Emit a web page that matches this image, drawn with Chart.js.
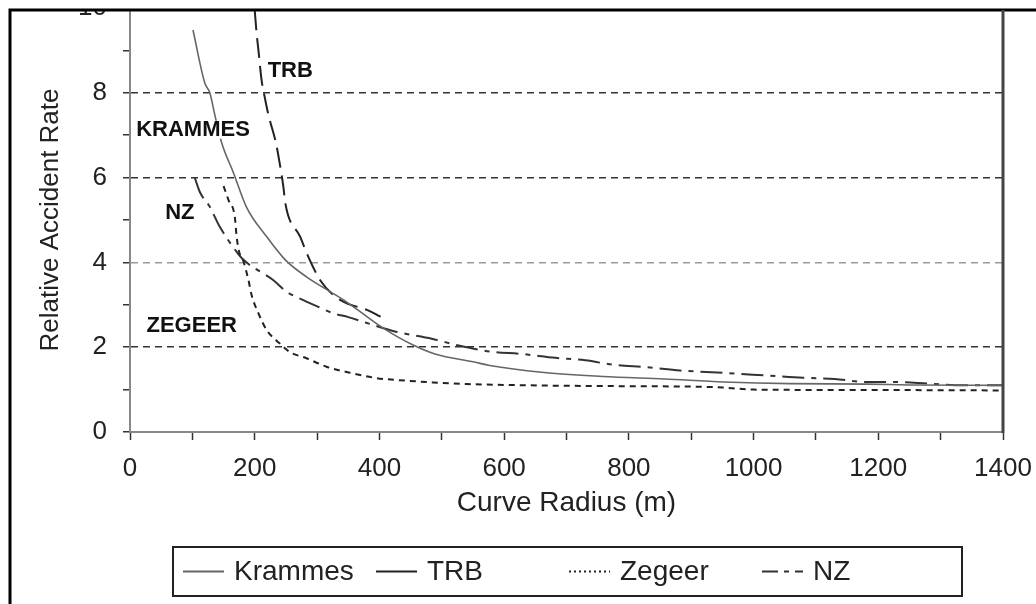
<!DOCTYPE html>
<html>
<head>
<meta charset="utf-8">
<script src="https://cdn.jsdelivr.net/npm/chart.js@4.4.1/dist/chart.umd.min.js"></script>
<style>
  html, body { margin: 0; padding: 0; background: #fff; }
  canvas { display: block; }
</style>
</head>
<body>
<canvas id="chart" width="1036" height="604"></canvas>
<script>
// values (radius in m, relative accident rate)
const krammesRadius = [101, 120, 128, 136, 147, 166, 187, 219, 249, 283, 321, 347, 380, 406, 454, 489, 552, 577, 660, 758, 857, 952, 1057, 1181, 1251, 1400];
const krammesRate = [9.48, 8.23, 8.0, 7.48, 6.82, 6.11, 5.3, 4.61, 4.06, 3.66, 3.31, 3.07, 2.72, 2.45, 2.05, 1.84, 1.65, 1.57, 1.41, 1.31, 1.25, 1.18, 1.14, 1.13, 1.11, 1.1];

const trbRadius = [200, 203, 206, 211, 216, 222, 234, 240, 246, 249, 273, 286, 305, 326, 347, 380, 402];
const trbRate = [9.95, 9.41, 9.0, 8.3, 7.9, 7.48, 6.82, 6.34, 5.78, 5.4, 4.6, 4.13, 3.58, 3.23, 3.04, 2.88, 2.72];

const zegeerRadius = [150, 158, 168, 171, 175, 182, 190, 195, 206, 219, 240, 256, 283, 315, 358, 396, 444, 486, 540, 600, 700, 800, 900, 950, 1000, 1200, 1400];
const zegeerRate = [5.8, 5.47, 5.08, 4.61, 4.25, 4.02, 3.58, 3.23, 2.8, 2.41, 2.09, 1.89, 1.74, 1.54, 1.38, 1.27, 1.21, 1.17, 1.13, 1.11, 1.09, 1.08, 1.07, 1.05, 1.0, 0.99, 0.98];

const nzRadius = [104, 112, 128, 144, 171, 182, 230, 251, 278, 302, 326, 350, 380, 428, 484, 527, 577, 628, 682, 730, 778, 828, 882, 933, 978, 1025, 1079, 1130, 1181, 1225, 1282, 1336, 1400];
const nzRate = [5.99, 5.66, 5.31, 4.84, 4.25, 4.06, 3.58, 3.31, 3.11, 2.95, 2.8, 2.71, 2.57, 2.36, 2.2, 2.04, 1.9, 1.84, 1.75, 1.69, 1.58, 1.53, 1.45, 1.41, 1.37, 1.33, 1.28, 1.25, 1.18, 1.18, 1.14, 1.1, 1.1];

// curve names written inside the plot, placed in data units
const noteText = ["TRB", "KRAMMES", "NZ", "ZEGEER"];
const noteRadius = [257, 101, 80, 99];
const noteRate = [8.51, 7.13, 5.17, 2.5];

const FONT = "'Liberation Sans', Arial, sans-serif";
const legendDash = [[], [], [2, 3], [16, 6, 5, 6]];

function series(label, xs, ys, color, dash, width) {
  return {
    label: label,
    data: xs.map((x, i) => ({ x: x, y: ys[i] })),
    borderColor: color,
    borderDash: dash,
    borderWidth: width,
    pointRadius: 0,
    fill: false,
    cubicInterpolationMode: "monotone"
  };
}

const decorations = {
  id: "decorations",
  beforeDraw(chart) {
    const ctx = chart.ctx;
    ctx.save();
    ctx.fillStyle = "#fff";
    ctx.fillRect(0, 0, chart.width, chart.height);
    ctx.restore();
  },
  afterDraw(chart) {
    const ctx = chart.ctx;
    const area = chart.chartArea;
    const xs = chart.scales.x;
    const ys = chart.scales.y;
    ctx.save();

    // curve labels with white backing
    ctx.font = "bold 22px " + FONT;
    ctx.textAlign = "center";
    ctx.textBaseline = "middle";
    noteText.forEach((t, i) => {
      const px = xs.getPixelForValue(noteRadius[i]);
      const py = ys.getPixelForValue(noteRate[i]);
      const w = ctx.measureText(t).width;
      ctx.fillStyle = "#fff";
      ctx.fillRect(px - w / 2 - 1, py - 9, w + 2, 18);
      ctx.fillStyle = "#111";
      ctx.fillText(t, px, py);
    });

    // scan is cut off above the frame
    ctx.fillStyle = "#fff";
    ctx.fillRect(0, 0, chart.width, 9);

    // outer frame
    ctx.strokeStyle = "#000";
    ctx.lineWidth = 3;
    ctx.beginPath();
    ctx.moveTo(10, chart.height);
    ctx.lineTo(10, 10);
    ctx.lineTo(chart.width, 10);
    ctx.stroke();

    // right edge of plot
    ctx.strokeStyle = "#444";
    ctx.lineWidth = 3;
    ctx.beginPath();
    ctx.moveTo(area.right, 10);
    ctx.lineTo(area.right, area.bottom + 1);
    ctx.stroke();

    // legend box
    const lx = 173, ly = 547, lw = 789, lh = 49;
    ctx.strokeStyle = "#222";
    ctx.lineWidth = 2;
    ctx.strokeRect(lx, ly, lw, lh);
    const cy = ly + lh / 2;
    ctx.font = "28px " + FONT;
    ctx.textAlign = "left";
    chart.data.datasets.forEach((ds, i) => {
      const sx = lx + 10 + i * 193;
      ctx.setLineDash(legendDash[i]);
      ctx.strokeStyle = ds.borderColor;
      ctx.lineWidth = 2;
      ctx.beginPath();
      ctx.moveTo(sx, cy);
      ctx.lineTo(sx + 41, cy);
      ctx.stroke();
      ctx.setLineDash([]);
      ctx.fillStyle = "#222";
      ctx.fillText(ds.label, sx + 51, cy + 1);
    });
    ctx.restore();
  }
};

new Chart(document.getElementById("chart"), {
  type: "line",
  data: {
    datasets: [
      series("Krammes", krammesRadius, krammesRate, "#666", [], 1.6),
      series("TRB", trbRadius, trbRate, "#222", [20, 8], 2),
      series("Zegeer", zegeerRadius, zegeerRate, "#222", [6, 5], 2),
      series("NZ", nzRadius, nzRate, "#333", [22, 7, 5, 7], 2)
    ]
  },
  options: {
    responsive: false,
    animation: false,
    devicePixelRatio: 1,
    layout: { padding: { left: 10, right: 33, top: 8, bottom: 0 } },
    plugins: { legend: { display: false }, tooltip: { enabled: false } },
    scales: {
      x: {
        type: "linear",
        min: 0,
        max: 1400,
        afterFit: s => {
          s.height = 172;
          s.paddingLeft = 0;
          s.paddingRight = 0;
        },
        ticks: {
          stepSize: 100,
          autoSkip: false,
          maxRotation: 0,
          padding: 13,
          color: "#222",
          font: { family: FONT, size: 26 },
          callback: v => (v % 200 === 0 ? String(v) : "")
        },
        grid: { drawOnChartArea: false, drawTicks: true, tickLength: 8, tickColor: "#333", tickWidth: 1.5 },
        border: { color: "#888", width: 2 },
        title: {
          display: true,
          text: "Curve Radius (m)",
          color: "#222",
          font: { family: FONT, size: 28 },
          padding: { top: 0, bottom: 84 }
        }
      },
      y: {
        min: 0,
        max: 10,
        afterFit: s => {
          s.width = 120;
          s.paddingTop = 0;
          s.paddingBottom = 0;
        },
        ticks: {
          stepSize: 1,
          autoSkip: false,
          padding: 16,
          color: "#222",
          font: { family: FONT, size: 26 },
          callback: v => (v % 2 === 0 ? String(v) : "")
        },
        grid: {
          color: c => {
            const v = c.tick ? c.tick.value : 0;
            if (v === 4) return "#999";
            if (v === 2 || v === 6 || v === 8) return "#333";
            return "rgba(0,0,0,0)";
          },
          lineWidth: 1.5,
          drawTicks: true,
          tickLength: 7,
          tickColor: "#333",
          tickWidth: 1.5,
          tickBorderDash: []
        },
        border: { color: "#888", width: 2, dash: [7, 5] },
        title: {
          display: true,
          text: "Relative Accident Rate",
          color: "#222",
          font: { family: FONT, size: 26 },
          padding: { top: 25, bottom: 0 }
        }
      }
    }
  },
  plugins: [decorations]
});
</script>
</body>
</html>
